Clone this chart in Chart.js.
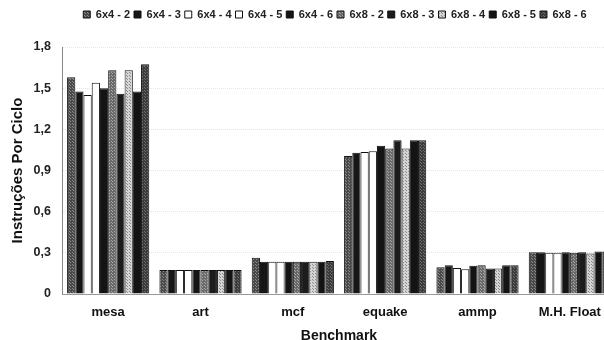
<!DOCTYPE html>
<html>
<head>
<meta charset="utf-8">
<script src="https://cdn.jsdelivr.net/npm/chart.js@4/dist/chart.umd.min.js"></script>
<style>
  html, body { margin: 0; padding: 0; background: #fff; overflow: hidden; }
  #wrap { width: 616px; height: 340px; }
</style>
</head>
<body>
<div id="wrap"><canvas id="c" width="616" height="340"></canvas></div>
<script>
const categories = ['mesa', 'art', 'mcf', 'equake', 'ammp', 'M.H. Float'];
const seriesNames = ['6x4 - 2', '6x4 - 3', '6x4 - 4', '6x4 - 5', '6x4 - 6',
                     '6x8 - 2', '6x8 - 3', '6x8 - 4', '6x8 - 5', '6x8 - 6'];

// IPC per configuration, one array per series (order follows categories)
const ipc_6x4_2 = [1.58, 0.175, 0.265, 1.005, 0.195, 0.305];
const ipc_6x4_3 = [1.475, 0.175, 0.235, 1.03, 0.21, 0.305];
const ipc_6x4_4 = [1.45, 0.175, 0.235, 1.035, 0.19, 0.30];
const ipc_6x4_5 = [1.54, 0.175, 0.235, 1.04, 0.18, 0.30];
const ipc_6x4_6 = [1.50, 0.175, 0.235, 1.08, 0.205, 0.305];
const ipc_6x8_2 = [1.63, 0.175, 0.235, 1.06, 0.21, 0.30];
const ipc_6x8_3 = [1.46, 0.175, 0.235, 1.12, 0.185, 0.305];
const ipc_6x8_4 = [1.63, 0.175, 0.235, 1.06, 0.185, 0.295];
const ipc_6x8_5 = [1.475, 0.175, 0.235, 1.12, 0.21, 0.31];
const ipc_6x8_6 = [1.675, 0.175, 0.24, 1.12, 0.21, 0.31];

const yTicks = [0, 0.3, 0.6, 0.9, 1.2, 1.5, 1.8];

// stippled grey fills, like a halftone print
function stipple(base, dot, step) {
  const c = document.createElement('canvas');
  c.width = step; c.height = step;
  const g = c.getContext('2d');
  g.fillStyle = base; g.fillRect(0, 0, step, step);
  g.fillStyle = dot;
  g.fillRect(0, 0, 1, 1);
  g.fillRect(Math.floor(step / 2), Math.floor(step / 2), 1, 1);
  return g.createPattern(c, 'repeat');
}

const ctx = document.getElementById('c').getContext('2d');
const fills = [
  stipple('#4a4a4a', '#8a8a8a', 3),
  '#161616',
  '#ffffff',
  '#ffffff',
  '#141414',
  stipple('#6a6a6a', '#a8a8a8', 3),
  '#1c1c1c',
  stipple('#d4d4d4', '#8c8c8c', 3),
  '#141414',
  stipple('#3c3c3c', '#6e6e6e', 3)
];

const seriesData = [ipc_6x4_2, ipc_6x4_3, ipc_6x4_4, ipc_6x4_5, ipc_6x4_6,
                    ipc_6x8_2, ipc_6x8_3, ipc_6x8_4, ipc_6x8_5, ipc_6x8_6];

const datasets = seriesNames.map((name, i) => ({
  label: name,
  data: seriesData[i],
  backgroundColor: fills[i],
  borderColor: '#111',
  borderWidth: 1,
  borderSkipped: 'bottom',
  categoryPercentage: 0.89,
  barPercentage: 1.0
}));

const fmt = v => (v === 0 ? '0' : v.toFixed(1).replace('.', ','));
const FONT = "'Liberation Sans', Arial, sans-serif";

// extra room under the legend and a small rightward offset of its row
const legendSpacing = {
  id: 'legendSpacing',
  beforeUpdate(chart) {
    const lg = chart.legend;
    if (lg && !lg._spaced) {
      const fit = lg.fit;
      lg.fit = function () { fit.call(this); this.height += 17; };
      lg._spaced = true;
    }
  },
  afterLayout(chart) {
    const lg = chart.legend;
    if (lg) { lg.left += 27; lg.right += 27; }
  }
};

new Chart(ctx, {
  type: 'bar',
  data: { labels: categories, datasets },
  plugins: [legendSpacing],
  options: {
    responsive: false,
    animation: false,
    layout: { padding: { top: 5, right: 0, bottom: 0, left: 0 } },
    plugins: {
      tooltip: { enabled: false },
      legend: {
        position: 'top',
        labels: {
          boxWidth: 7,
          boxHeight: 7,
          padding: 4,
          color: '#222',
          font: { family: FONT, size: 11, weight: 'bold' }
        }
      }
    },
    scales: {
      x: {
        grid: { display: false, drawTicks: false },
        border: { display: true, color: '#999', dash: [1, 1] },
        ticks: { color: '#111', padding: 11, font: { family: FONT, size: 13, weight: 'bold' } },
        title: {
          display: true, text: 'Benchmark', color: '#111',
          padding: { top: 0, bottom: -5 },
          font: { family: FONT, size: 14, weight: 'bold' }
        },
        afterFit: s => { s.height = 46; }
      },
      y: {
        min: 0, max: 1.8,
        afterBuildTicks: s => { s.ticks = yTicks.map(v => ({ value: v })); },
        grid: { color: 'rgba(0,0,0,0.10)', drawTicks: false },
        border: { display: true, color: '#888', dash: [1, 1] },
        ticks: {
          color: '#222', padding: 11,
          font: { family: FONT, size: 12.5, weight: 'bold' },
          callback: v => fmt(v)
        },
        title: {
          display: true, text: 'Instruções Por Ciclo', color: '#111',
          padding: { top: 9, bottom: 0 },
          font: { family: FONT, size: 15, weight: 'bold' }
        },
        afterFit: s => { s.width = 62; }
      }
    }
  }
});
</script>
</body>
</html>
